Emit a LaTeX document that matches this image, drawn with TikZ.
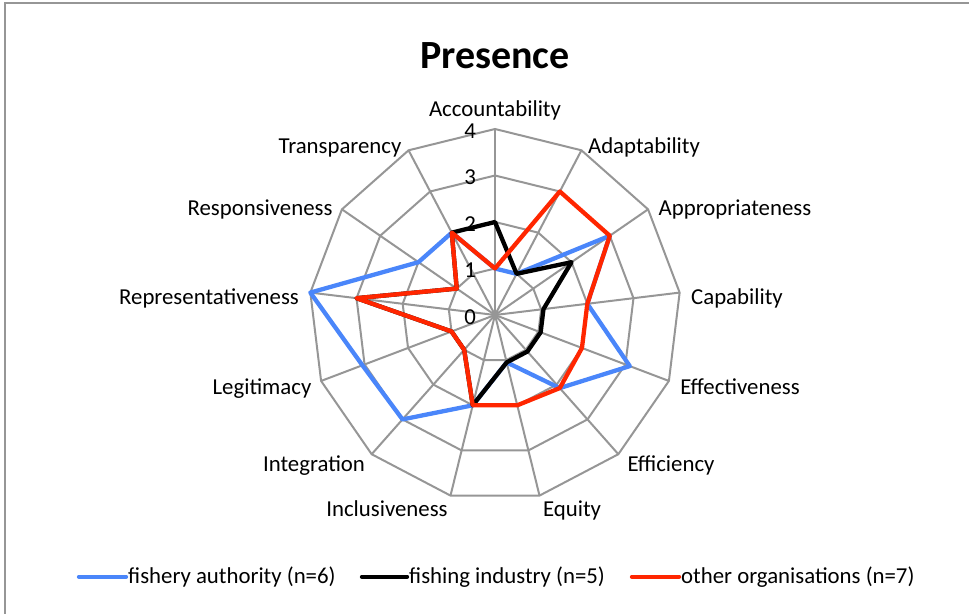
\documentclass[tikz,border=0pt]{standalone}
\usepackage{fontspec}
\setmainfont{Carlito}
\usetikzlibrary{positioning,calc}
\definecolor{authority}{RGB}{74,134,250}
\definecolor{organisations}{RGB}{255,38,0}
\definecolor{gridgray}{RGB}{150,150,150}
\tikzstyle{gridline}=[draw=gridgray,line width=2pt]
\tikzstyle{series}=[line width=4.3pt,line join=round]
\tikzstyle{axislabel}=[font=\fontsize{22.8}{26}\selectfont,inner sep=0pt,anchor=base]
\tikzstyle{legendline}=[line width=4.3pt,line cap=round]

\begin{document}
\begin{tikzpicture}[x=1pt,y=1pt]
  \useasboundingbox (0,0) rectangle (969,613);
  \draw[gridgray,line width=2pt] (5,-10) -- (5,610) -- (990,610);
  \node[font=\fontsize{40}{46}\selectfont\bfseries,inner sep=0pt] (title) at (495,557) {Presence};

  \begin{scope}[shift={(495,298)}]
    \foreach \k in {0,...,12}
      \coordinate (ax\k) at (90-\k*360/13:4*46.5);
    \foreach \k in {0,...,12}
      \draw[gridline] (0,0) -- (ax\k);
    \foreach \r in {1,...,4}
      \draw[gridline] (90:\r*46.5) \foreach \k in {1,...,12} {-- (90-\k*360/13:\r*46.5)} -- cycle;
    \foreach \r in {0,...,4}
      \node[axislabel,anchor=base east] (tick\r) at (-19,\r*46.5-9.5) {\r};

    \foreach \v [count=\k from 0] in {1,1,3,2,3.1,2.1,1.05,2,3,3.05,4,2,2}
      \coordinate (fa\k) at (90-\k*360/13:\v*46.5);
    \foreach \v [count=\k from 0] in {2,1,2,1.05,1.05,1.05,1.05,2,1,1,3,1,2}
      \coordinate (fi\k) at (90-\k*360/13:\v*46.5);
    \foreach \v [count=\k from 0] in {1,3,3,2,2,2.1,2,2,1,1,3,1,2}
      \coordinate (oo\k) at (90-\k*360/13:\v*46.5);

    \draw[series,authority] (fa0) \foreach \k in {1,...,12} {-- (fa\k)} -- cycle;
    \draw[series,black] (fi0) \foreach \k in {1,...,12} {-- (fi\k)} -- cycle;
    \draw[series,organisations] (oo0) \foreach \k in {1,...,12} {-- (oo\k)} -- cycle;
  \end{scope}

  \foreach \name/\x/\y [count=\k from 0] in {Accountability/495/496.3, Adaptability/644/459.5,
      Appropriateness/735/397.5, Capability/737/308.5, Effectiveness/740/218.5,
      Efficiency/671/141.5, Equity/572/96.5, Inclusiveness/387/96.5,
      Integration/314/141.5, Legitimacy/262/218.5, Representativeness/209/308.5,
      Responsiveness/260/397.5, Transparency/340/459.5}
    \node[axislabel] (lbl\k) at (\x,\y) {\name};

  \coordinate (ls1) at (79,36.3);
  \coordinate (ls2) at (362,36.3);
  \coordinate (ls3) at (632,36.3);
  \node[axislabel,anchor=west] (leg1) at (128,36.3) {fishery authority (n=6)};
  \node[axislabel,anchor=west] (leg2) at (409,36.3) {fishing industry (n=5)};
  \node[axislabel,anchor=west] (leg3) at (681,36.3) {other organisations (n=7)};
  \draw[legendline,authority] (ls1) -- ([xshift=-2pt]leg1.west);
  \draw[legendline,black] (ls2) -- ([xshift=-2pt]leg2.west);
  \draw[legendline,organisations] (ls3) -- ([xshift=-2pt]leg3.west);
\end{tikzpicture}
\end{document}
